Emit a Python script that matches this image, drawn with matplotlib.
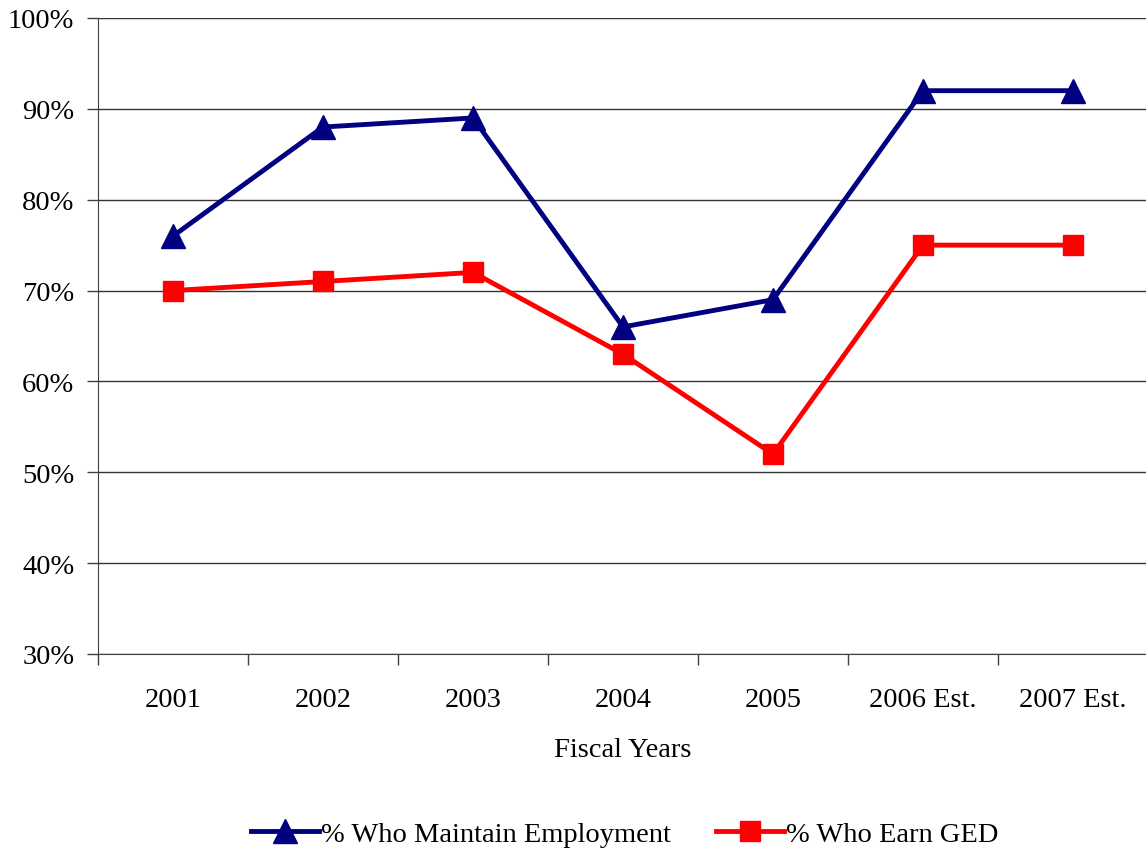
import matplotlib
matplotlib.use("Agg")
from matplotlib import pyplot as plt
from matplotlib.ticker import FuncFormatter

years = ["2001", "2002", "2003", "2004", "2005", "2006 Est.", "2007 Est."]
employment = [76, 88, 89, 66, 69, 92, 92]
ged = [70, 71, 72, 63, 52, 75, 75]

plt.rcParams['font.family'] = ['Liberation Serif', 'DejaVu Serif']

fig = plt.figure(figsize=(11.46, 8.54), dpi=100)
ax = fig.add_axes([98 / 1146, 1 - 655 / 854, 1050 / 1146, 636 / 854])

x = list(range(len(years)))
ax.plot(x, employment, color='#000080', lw=3.5, marker='^', ms=17,
        label='% Who Maintain Employment', clip_on=False, zorder=3)
ax.plot(x, ged, color='#FF0000', lw=3.5, marker='s', ms=14,
        label='% Who Earn GED', clip_on=False, zorder=3)

ax.set_xlim(-0.5, len(years) - 0.5)
ax.set_ylim(30, 100)
ax.set_yticks(range(30, 101, 10))
ax.yaxis.set_major_formatter(FuncFormatter(lambda v, p: "%d%%" % v))
ax.yaxis.grid(True, color='#333333', lw=1)
ax.set_axisbelow(True)

ax.set_xticks([i - 0.5 for i in range(len(years) + 1)])
ax.set_xticklabels([])
ax.set_xticks(x, minor=True)
ax.set_xticklabels(years, minor=True)
ax.tick_params(axis='x', which='minor', length=0, pad=24, labelsize=20.5)
ax.tick_params(axis='x', which='major', length=8, width=1, color='#404040')
ax.tick_params(axis='y', length=8, width=1, color='#404040', labelsize=20.5, pad=9)

for s in ['top', 'right']:
    ax.spines[s].set_visible(False)
ax.spines['left'].set_color('#404040')
ax.spines['bottom'].set_color('#404040')

ax.set_xlabel('Fiscal Years', fontsize=20.5, labelpad=18)

fig.legend(loc='center', bbox_to_anchor=(0.545, 1 - 835 / 854), ncol=2,
           frameon=False, fontsize=20.5, handlelength=2.4, handletextpad=0.05,
           columnspacing=1.6)

fig.savefig('out.png', dpi=100)
